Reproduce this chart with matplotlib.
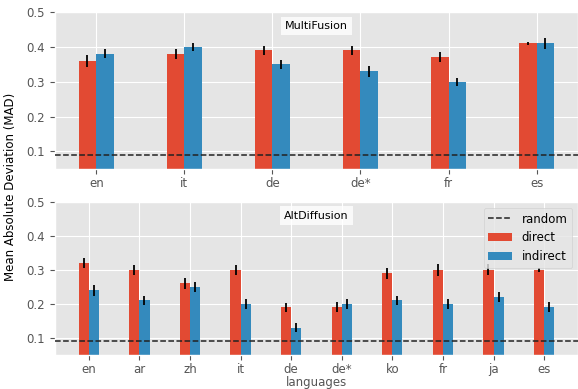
import numpy as np
import matplotlib
matplotlib.use('Agg')
import matplotlib.pyplot as plt

plt.style.use('ggplot')

# MultiFusion
mf_langs = ['en', 'it', 'de', 'de*', 'fr', 'es']
mf_direct = [0.36, 0.38, 0.39, 0.39, 0.37, 0.41]
mf_direct_err = [0.017, 0.015, 0.013, 0.014, 0.014, 0.005]
mf_indirect = [0.38, 0.40, 0.35, 0.33, 0.30, 0.41]
mf_indirect_err = [0.013, 0.012, 0.013, 0.016, 0.012, 0.016]

# AltDiffusion
ad_langs = ['en', 'ar', 'zh', 'it', 'de', 'de*', 'ko', 'fr', 'ja', 'es']
ad_direct = [0.32, 0.30, 0.26, 0.30, 0.19, 0.19, 0.29, 0.30, 0.30, 0.30]
ad_direct_err = [0.016, 0.015, 0.016, 0.015, 0.013, 0.015, 0.016, 0.017, 0.016, 0.005]
ad_indirect = [0.24, 0.21, 0.25, 0.20, 0.13, 0.20, 0.21, 0.20, 0.22, 0.19]
ad_indirect_err = [0.016, 0.013, 0.015, 0.015, 0.013, 0.015, 0.013, 0.014, 0.014, 0.015]

random_mad = 0.09

fig = plt.figure(figsize=(5.78, 3.89), dpi=100)
ax1 = fig.add_axes([0.095, 0.566, 0.905, 0.403])
ax2 = fig.add_axes([0.095, 0.088, 0.905, 0.393])

fs = 8.5
w = 0.2
for ax, langs, d, de, ind, inde, name in [
        (ax1, mf_langs, mf_direct, mf_direct_err, mf_indirect, mf_indirect_err, 'MultiFusion'),
        (ax2, ad_langs, ad_direct, ad_direct_err, ad_indirect, ad_indirect_err, 'AltDiffusion')]:
    x = np.arange(len(langs))
    ax.axhline(random_mad, color='#222222', ls='--', lw=1.1, label='random', zorder=3)
    ax.bar(x - w / 2, d, w, yerr=de, color='#E24A33', label='direct',
           error_kw=dict(ecolor='black', elinewidth=1.3, capsize=0))
    ax.bar(x + w / 2, ind, w, yerr=inde, color='#348ABD', label='indirect',
           error_kw=dict(ecolor='black', elinewidth=1.3, capsize=0))
    ax.set_xticks(x)
    ax.set_xticklabels(langs, fontsize=fs)
    ax.set_ylim(0.05, 0.5)
    ax.set_yticks([0.1, 0.2, 0.3, 0.4, 0.5])
    ax.tick_params(labelsize=fs)
    ax.tick_params(axis='x', pad=2.5)
    ax.text(0.5, 0.91, name, transform=ax.transAxes, ha='center', va='center',
            fontsize=8, bbox=dict(facecolor='white', edgecolor='none', alpha=0.8, pad=3))

ax2.legend(loc='upper right', fontsize=fs, facecolor='#e5e5e5', framealpha=0.8,
           edgecolor='#cccccc')
ax2.set_xlabel('languages', fontsize=fs, labelpad=0)
fig.text(0.018, 0.52, 'Mean Absolute Deviation (MAD)', rotation=90,
         ha='center', va='center', fontsize=fs)

fig.savefig('out.png', dpi=100)
